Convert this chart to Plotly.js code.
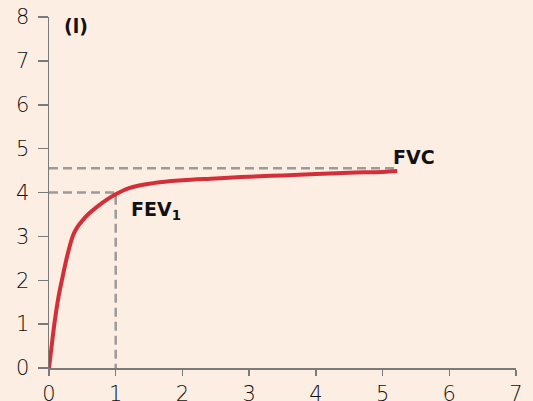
<!DOCTYPE html>
<html>
<head>
<meta charset="utf-8">
<script src="https://cdn.plot.ly/plotly-3.0.1.min.js"></script>
<style>html,body{margin:0;padding:0;background:#FDEEE3;}#chart{width:533px;height:401px;}</style>
</head>
<body>
<div id="chart"></div>
<script>
// Spirometry volume–time curve
const timeS = [0, 0.04, 0.08, 0.14, 0.2, 0.28, 0.36, 0.42, 0.5, 0.6, 0.7, 0.85, 1.0, 1.2, 1.46, 1.7, 2.0, 2.5, 3.0, 3.5, 4.0, 4.5, 5.0, 5.22];
const volumeL = [0, 0.5, 1.0, 1.6, 2.05, 2.6, 3.02, 3.2, 3.36, 3.52, 3.65, 3.82, 3.96, 4.1, 4.19, 4.24, 4.28, 4.32, 4.36, 4.39, 4.42, 4.45, 4.47, 4.49];
const fev1Time = 1;
const fev1Value = 4.0;
const fvcValue = 4.55;
const fvcEndTime = 5.24;
const xTicks = [0, 1, 2, 3, 4, 5, 6, 7];
const yTicks = [0, 1, 2, 3, 4, 5, 6, 7, 8];
const labels = {fvc: "FVC", fev1: "FEV<sub>1</sub>", yUnit: "(l)", xUnit: "(s)"};

const dashStyle = {color: "#9B9B9B", width: 2.5, dash: "9px,5px"};

const traces = [
  {x: [0, fvcEndTime], y: [fvcValue, fvcValue], mode: "lines", line: dashStyle, hoverinfo: "skip"},
  {x: [0, fev1Time, fev1Time], y: [fev1Value, fev1Value, 0], mode: "lines", line: dashStyle, hoverinfo: "skip"},
  {x: timeS, y: volumeL, mode: "lines", line: {color: "#D42F38", width: 4, shape: "spline", smoothing: 1}}
];

const tickFont = {family: "'DejaVu Sans', sans-serif", size: 21, color: "#111", weight: 200};
const boldFont = {family: "'DejaVu Sans', sans-serif", size: 19, color: "#111", weight: "bold"};

const layout = {
  width: 533, height: 401,
  paper_bgcolor: "#FDEEE3", plot_bgcolor: "#FDEEE3",
  showlegend: false,
  margin: {l: 48.6, r: 17.4, t: 16.8, b: 33, pad: 0},
  xaxis: {
    range: [0, 7], tickvals: xTicks, ticktext: xTicks.map(String),
    showgrid: false, zeroline: false, showline: true, linecolor: "#7A7A7A", linewidth: 1.5,
    ticks: "outside", ticklen: 6, tickwidth: 1.5, tickcolor: "#7A7A7A",
    tickfont: tickFont, ticklabelstandoff: 0, fixedrange: true
  },
  yaxis: {
    range: [0, 8], tickvals: yTicks, ticktext: yTicks.map(String),
    showgrid: false, zeroline: false, showline: true, linecolor: "#7A7A7A", linewidth: 1.5,
    ticks: "outside", ticklen: 10, tickwidth: 1.5, tickcolor: "#7A7A7A",
    tickfont: tickFont, ticklabelstandoff: 4, fixedrange: true
  },
  annotations: [
    {x: 0.40, y: 7.79, xref: "x", yref: "y", text: labels.yUnit, showarrow: false, font: boldFont, xanchor: "center", yanchor: "middle"},
    {x: 7.02, y: 0.62, xref: "x", yref: "y", text: labels.xUnit, showarrow: false, font: boldFont, xanchor: "center", yanchor: "middle"},
    {x: 5.47, y: 4.81, xref: "x", yref: "y", text: labels.fvc, showarrow: false, font: boldFont, xanchor: "center", yanchor: "middle"},
    {x: 1.2, y: 3.6, xref: "x", yref: "y", text: labels.fev1, showarrow: false, font: boldFont, xanchor: "left", yanchor: "middle"}
  ]
};

Plotly.newPlot("chart", traces, layout, {staticPlot: true, displayModeBar: false});
</script>
</body>
</html>
